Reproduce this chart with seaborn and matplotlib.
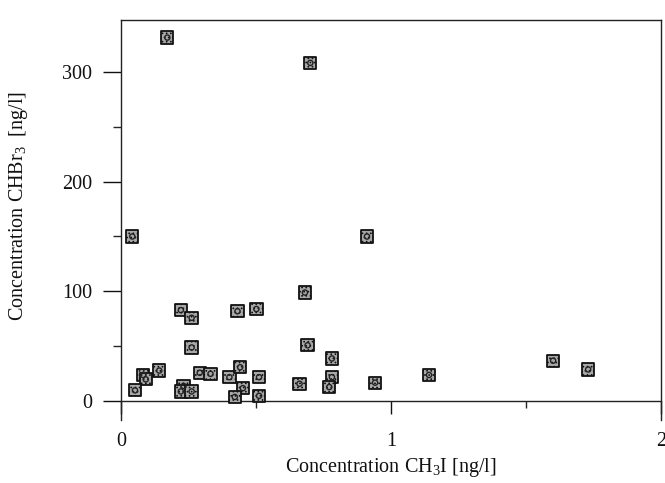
import matplotlib
matplotlib.use('Agg')
import matplotlib.pyplot as plt
import numpy as np
import pandas as pd
import seaborn as sns

# CH3I vs CHBr3 concentrations
ch3i = [0.04, 0.91, 0.17, 0.70, 0.68, 0.22, 0.26, 0.43, 0.50, 0.26,
        0.69, 0.78, 0.08, 0.09, 0.14, 0.29, 0.33, 0.40, 0.44, 0.51,
        0.78, 0.94, 0.66, 0.77, 0.05, 0.23, 0.22, 0.26, 0.45, 0.42,
        0.51, 1.14, 1.60, 1.73]
chbr3 = [150, 150, 331, 308, 99, 83, 76, 82, 84, 49,
         51, 39, 24, 20, 28, 26, 25, 22, 31, 22,
         22, 17, 16, 13, 10, 14, 9, 9, 12, 4,
         5, 24, 37, 29]

df = pd.DataFrame({'ch3i': ch3i, 'chbr3': chbr3})

sns.set_style('ticks')
plt.rcParams['font.family'] = ['Liberation Serif', 'DejaVu Serif']
plt.rcParams['mathtext.fontset'] = 'custom'
plt.rcParams['mathtext.rm'] = 'Liberation Serif'
plt.rcParams['mathtext.it'] = 'Liberation Serif:italic'
plt.rcParams['hatch.linewidth'] = 0.7

fig = plt.figure(figsize=(6.65, 4.83), dpi=100)
ax = fig.add_axes([0.1827, 0.1304, 0.8113, 0.8282])

sns.scatterplot(data=df, x='ch3i', y='chbr3', ax=ax, marker='s', s=78,
                color='#a8a8a8', edgecolor='#111111', linewidth=1.3,
                hatch='....', zorder=3)
sns.scatterplot(data=df, x='ch3i', y='chbr3', ax=ax, marker='o', s=14,
                facecolor='none', edgecolor='#222222', linewidth=1.0,
                zorder=4)

ax.set_xlim(0, 2.0)
ax.set_ylim(-17, 347)

# bottom axis sits at y = 0
ax.spines['bottom'].set_position(('data', 0))
for sp in ax.spines.values():
    sp.set_linewidth(1.0)
    sp.set_color('#222222')

ax.set_xticks([0, 1, 2])
ax.set_xticklabels(['0', '1', '2'])
ax.set_xticks([0.5, 1.5], minor=True)
ax.set_yticks([0, 100, 200, 300])
ax.set_yticks([50, 150, 250], minor=True)

ax.tick_params(axis='y', which='major', direction='out', length=13, width=1.0,
               pad=8, labelsize=14.5, colors='#111111')
ax.tick_params(axis='y', which='minor', direction='out', length=6, width=1.0)
ax.tick_params(axis='x', which='major', direction='out', length=9, width=1.0,
               pad=13, labelsize=14.5, colors='#111111')
ax.tick_params(axis='x', which='minor', direction='out', length=5, width=1.0)

ax.set_xlabel('Concentration CH$_3$I [ng/l]', fontsize=14.5, color='#111111')
ax.set_ylabel('Concentration CHBr$_3$  [ng/l]', fontsize=14.5, color='#111111')
ax.xaxis.set_label_coords(0.5, -0.09)
ax.yaxis.set_label_coords(-0.17, 0.535)

fig.savefig('out.png', dpi=100)
